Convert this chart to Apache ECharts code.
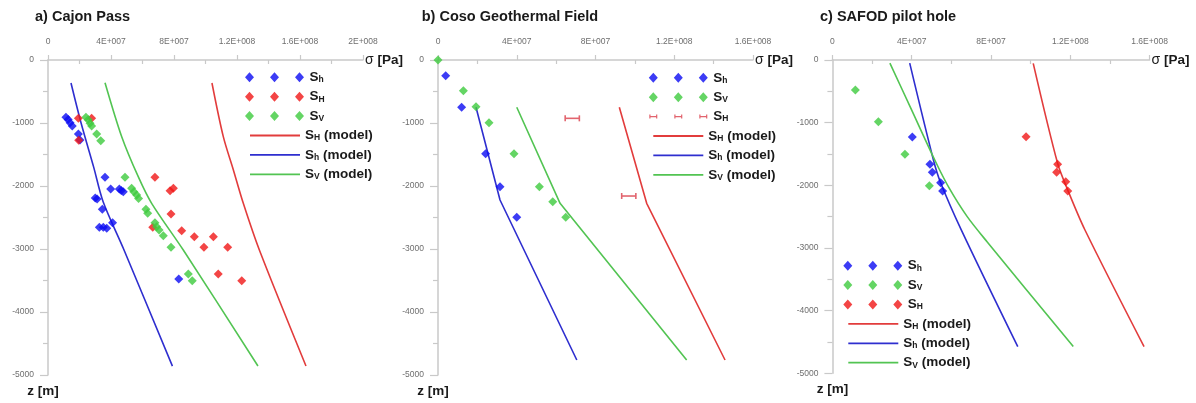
<!DOCTYPE html>
<html>
<head>
<meta charset="utf-8">
<script src="https://cdn.jsdelivr.net/npm/echarts@6/dist/echarts.min.js"></script>
<style>
  html, body { margin: 0; padding: 0; background: #fff; }
  #chart { width: 1196px; height: 403px; }
</style>
</head>
<body>
<div id="chart"></div>
<script>
// ---------- a) Cajon Pass : [stress (Pa), depth (m)] ----------
const cajonSh = [[1.14e7,-910],[1.28e7,-945],[1.4e7,-995],[1.54e7,-1048],[1.93e7,-1175],[2.03e7,-1270],
  [3.62e7,-1862],[3.98e7,-2048],[4.53e7,-2048],[4.65e7,-2070],[4.78e7,-2090],[3.0e7,-2190],[3.12e7,-2205],
  [3.45e7,-2370],[3.26e7,-2656],[3.51e7,-2656],[3.73e7,-2672],[4.1e7,-2582],[8.3e7,-3476]];
const cajonSH = [[1.93e7,-926],[2.77e7,-926],[1.95e7,-1275],[6.79e7,-1862],[7.75e7,-2074],[7.96e7,-2037],
  [7.81e7,-2444],[6.65e7,-2656],[8.49e7,-2709],[9.29e7,-2804],[1.05e8,-2804],[9.9e7,-2973],[1.141e8,-2973],
  [1.081e8,-3397],[1.23e8,-3503]];
const cajonSv = [[2.41e7,-910],[2.55e7,-950],[2.67e7,-1005],[2.77e7,-1048],[3.09e7,-1175],[3.35e7,-1280],
  [4.89e7,-1862],[5.31e7,-2037],[5.45e7,-2090],[5.63e7,-2143],[5.75e7,-2200],[6.22e7,-2370],[6.33e7,-2434],
  [6.79e7,-2582],[6.9e7,-2646],[7.05e7,-2698],[7.32e7,-2788],[7.81e7,-2973],[8.91e7,-3397],[9.16e7,-3503]];
const cajonSHModel = [[1.041e8,-365],[1.113e8,-1217],[1.177e8,-1746],[1.24e8,-2275],[1.342e8,-3016],[1.638e8,-4857]];
const cajonShModel = [[1.46e7,-365],[2.1e7,-1000],[2.9e7,-1700],[3.5e7,-2250],[4.8e7,-3000],[7.9e7,-4860]];
const cajonSvModel = [[3.62e7,-360],[4.68e7,-1217],[5.73e7,-1852],[6.58e7,-2275],[8.59e7,-3016],[1.333e8,-4857]];

// ---------- b) Coso Geothermal Field ----------
const cosoSh = [[3.9e6,-249],[1.2e7,-750],[2.42e7,-1490],[3.15e7,-2011],[4.0e7,-2497]];
const cosoSv = [[0,0],[1.29e7,-487],[1.93e7,-741],[2.59e7,-995],[3.86e7,-1490],[5.15e7,-2011],[5.83e7,-2249],[6.49e7,-2497]];
// [centre (Pa), depth (m), lower bound (Pa), upper bound (Pa)]
const cosoSH = [[6.82e7,-926,6.46e7,7.18e7],[9.69e7,-2159,9.33e7,1.005e8]];
const cosoSHModel = [[9.21e7,-750],[1.06e8,-2275],[1.458e8,-4762]];
const cosoShModel = [[1.93e7,-750],[3.15e7,-2222],[7.05e7,-4762]];
const cosoSvModel = [[4.0e7,-750],[6.2e7,-2275],[1.263e8,-4762]];

// ---------- c) SAFOD pilot hole ----------
const safodSh = [[4.03e7,-1228],[4.92e7,-1664],[5.04e7,-1792],[5.46e7,-1957],[5.56e7,-2090]];
const safodSv = [[1.16e7,-478],[2.32e7,-984],[3.66e7,-1505],[4.89e7,-2005]];
const safodSH = [[9.77e7,-1223],[1.136e8,-1664],[1.131e8,-1792],[1.177e8,-1942],[1.187e8,-2090]];
const safodSHModel = [[1.013e8,-53],[1.136e8,-1649],[1.187e8,-2074],[1.274e8,-2713],[1.572e8,-4574]];
const safodShModel = [[3.9e7,-50],[5.1e7,-1600],[5.45e7,-1950],[6.5e7,-2710],[9.35e7,-4574]];
const safodSvModel = [[2.9e7,-50],[4.0e7,-800],[5.2e7,-1620],[5.9e7,-2050],[6.8e7,-2500],[7.8e7,-2900],[1.215e8,-4574]];

// ---------- axis settings ----------
const panelTitles = ['a) Cajon Pass', 'b) Coso Geothermal Field', 'c) SAFOD pilot hole'];
const stressMax = [2e8, 1.6e8, 1.6e8];
const stressStep = 4e7;
const depthMin = -5000, depthStep = 1000;

const FONT = '"Liberation Sans", Arial, Helvetica, sans-serif';
const COL = {
  sh: '#0b0bf2', sH: '#f01616', sv: '#3dca3d', err: '#e2646e',
  shLine: '#2e2ecf', sHLine: '#e23c3c', svLine: '#52c452'
};

// Excel-style scientific tick labels: 4E+007, 1.2E+008 ...
function sciLabel(v) {
  if (v === 0) return '0';
  const e = Math.floor(Math.log10(Math.abs(v)) + 1e-9);
  const m = +(v / Math.pow(10, e)).toFixed(2);
  return m + 'E+' + String(e).padStart(3, '0');
}

const LABELS = {
  Sh: '{s|S}{sub|h}', SH: '{s|S}{sub|H}', Sv: '{s|S}{sub|V}',
  SHm: '{s|S}{sub|H}{s| (model)}', Shm: '{s|S}{sub|h}{s| (model)}', Svm: '{s|S}{sub|V}{s| (model)}'
};
const legendRich = {
  s: { fontSize: 13.5, fontWeight: 'bold', fontFamily: FONT, color: '#1a1a1a', lineHeight: 14 },
  sub: { fontSize: 8.5, fontWeight: 'bold', fontFamily: FONT, color: '#1a1a1a', lineHeight: 8, verticalAlign: 'bottom' }
};

// legend icons drawn in fixed boxes (tiny corner marks keep the path from being stretched)
const CORNERS60 = 'M0,0L0.05,0L0,0.05Z M59.95,10L60,10L60,9.95Z ';
const ICON_DIAMONDS = 'path://M0.5,5L5,0L9.5,5L5,10Z M25.5,5L30,0L34.5,5L30,10Z M50.5,5L55,0L59.5,5L55,10Z';
function errIcon(cx) {
  return `M${cx-4},3h1.2v4h-1.2z M${cx-4},4.4h8v1.2h-8z M${cx+2.8},3h1.2v4h-1.2z`;
}
const ICON_ERRBARS = 'path://' + CORNERS60 + errIcon(5) + ' ' + errIcon(30) + ' ' + errIcon(55);
const ICON_LINE = 'path://M0,0L0.05,0L0,0.05Z M49.95,10L50,10L50,9.95Z M0,4.1h50v1.8h-50z';

const grids = [
  { left: 48, top: 60, width: 315, height: 315 },
  { left: 438, top: 60, width: 315, height: 315 },
  { left: 832.4, top: 60, width: 317.2, height: 313.3 }
];
const zNamePad = [[0, 10, 0, 0], [0, 10, 0, 0], [0, 0, 0, 0]];

const axisGray = '#c9c9c9';
const xAxes = stressMax.map((mx, i) => ({
  type: 'value', gridIndex: i, position: 'top', min: 0, max: mx, interval: stressStep,
  axisLine: { show: true, onZero: false, lineStyle: { color: axisGray, width: 1.5 } },
  axisTick: { show: true, length: 5, lineStyle: { color: axisGray, width: 1.2 } },
  minorTick: { show: true, splitNumber: 2, length: -4, lineStyle: { color: axisGray, width: 1.2 } },
  splitLine: { show: false },
  axisLabel: { formatter: sciLabel, fontSize: 8.5, color: '#6e6e6e', fontFamily: FONT, margin: 14 },
  name: '{n|σ}{b| [Pa]}', nameLocation: 'end', nameGap: 2,
  nameTextStyle: { rich: {
    n: { fontSize: 14, fontFamily: FONT, color: '#1a1a1a' },
    b: { fontSize: 13.5, fontWeight: 'bold', fontFamily: FONT, color: '#1a1a1a' }
  } }
}));
const yAxes = grids.map((g, i) => ({
  type: 'value', gridIndex: i, min: depthMin, max: 0, interval: depthStep,
  axisLine: { show: true, onZero: false, lineStyle: { color: axisGray, width: 1.5 } },
  axisTick: { show: true, length: 8, lineStyle: { color: axisGray, width: 1.2 } },
  minorTick: { show: true, splitNumber: 2, length: 5, lineStyle: { color: axisGray, width: 1.2 } },
  splitLine: { show: false },
  axisLabel: { formatter: v => String(v), fontSize: 8.5, color: '#6e6e6e', fontFamily: FONT, margin: 14 },
  name: 'z [m]', nameLocation: 'start', nameGap: 9,
  nameTextStyle: { fontSize: 13.5, fontWeight: 'bold', fontFamily: FONT, color: '#1a1a1a', padding: zNamePad[i] }
}));

function scatter(name, data, idx, color) {
  return { name, type: 'scatter', xAxisIndex: idx, yAxisIndex: idx, data, symbol: 'diamond', symbolSize: 9,
    clip: false, z: 4, itemStyle: { color } };
}
function model(name, data, idx, color, smooth) {
  return { name, type: 'line', xAxisIndex: idx, yAxisIndex: idx, data, symbol: 'none', smooth,
    clip: false, z: 3, lineStyle: { color, width: 1.6 }, itemStyle: { color } };
}

const series = [
  scatter('a|Sh', cajonSh, 0, COL.sh), scatter('a|SH', cajonSH, 0, COL.sH), scatter('a|Sv', cajonSv, 0, COL.sv),
  model('a|SHm', cajonSHModel, 0, COL.sHLine, 0.3), model('a|Shm', cajonShModel, 0, COL.shLine, 0.3),
  model('a|Svm', cajonSvModel, 0, COL.svLine, 0.3),

  scatter('b|Sh', cosoSh, 1, COL.sh), scatter('b|Sv', cosoSv, 1, COL.sv),
  {
    name: 'b|SH', type: 'custom', xAxisIndex: 1, yAxisIndex: 1, data: cosoSH, encode: { x: 0, y: 1 },
    itemStyle: { color: COL.err }, z: 4,
    renderItem: (params, api) => {
      const lo = api.coord([api.value(2), api.value(1)]);
      const hi = api.coord([api.value(3), api.value(1)]);
      const cap = 3;
      const st = { stroke: COL.err, lineWidth: 1.6 };
      return { type: 'group', children: [
        { type: 'line', shape: { x1: lo[0], y1: lo[1], x2: hi[0], y2: hi[1] }, style: st },
        { type: 'line', shape: { x1: lo[0], y1: lo[1] - cap, x2: lo[0], y2: lo[1] + cap }, style: st },
        { type: 'line', shape: { x1: hi[0], y1: hi[1] - cap, x2: hi[0], y2: hi[1] + cap }, style: st }
      ] };
    }
  },
  model('b|SHm', cosoSHModel, 1, COL.sHLine, false), model('b|Shm', cosoShModel, 1, COL.shLine, false),
  model('b|Svm', cosoSvModel, 1, COL.svLine, false),

  scatter('c|Sh', safodSh, 2, COL.sh), scatter('c|Sv', safodSv, 2, COL.sv), scatter('c|SH', safodSH, 2, COL.sH),
  model('c|SHm', safodSHModel, 2, COL.sHLine, 0.3), model('c|Shm', safodShModel, 2, COL.shLine, 0.3),
  model('c|Svm', safodSvModel, 2, COL.svLine, 0.3)
];

const rowH = 19.4;
function legendPair(prefix, keys, left, top) {
  const base = {
    orient: 'vertical', selectedMode: false, itemHeight: 10, itemGap: rowH - 14, padding: 0,
    formatter: n => LABELS[n.split('|')[1]], textStyle: { rich: legendRich }
  };
  const scatterItems = keys.map(k => ({
    name: prefix + '|' + k, icon: (prefix === 'b' && k === 'SH') ? ICON_ERRBARS : ICON_DIAMONDS
  }));
  const lineItems = ['SHm', 'Shm', 'Svm'].map(k => ({ name: prefix + '|' + k, icon: ICON_LINE }));
  return [
    Object.assign({}, base, { left, top, itemWidth: 60, data: scatterItems }),
    Object.assign({}, base, { left: left + 5, top: top + 3 * rowH, itemWidth: 50, data: lineItems })
  ];
}

const legends = [].concat(
  legendPair('a', ['Sh', 'SH', 'Sv'], 245, 70.3),
  legendPair('b', ['Sh', 'Sv', 'SH'], 648.3, 70.8),
  legendPair('c', ['Sh', 'Sv', 'SH'], 843.3, 258.7)
);

const titleLeft = [35, 421.7, 820];
const titles = panelTitles.map((t, i) => ({
  text: t, left: titleLeft[i], top: 9, padding: 0,
  textStyle: { fontSize: 14.5, fontWeight: 'bold', fontFamily: FONT, color: '#1a1a1a' }
}));

const chart = echarts.init(document.getElementById('chart'), null, { renderer: 'canvas' });
chart.setOption({
  animation: false,
  backgroundColor: '#ffffff',
  title: titles,
  grid: grids,
  xAxis: xAxes,
  yAxis: yAxes,
  legend: legends,
  series
});
</script>
</body>
</html>
